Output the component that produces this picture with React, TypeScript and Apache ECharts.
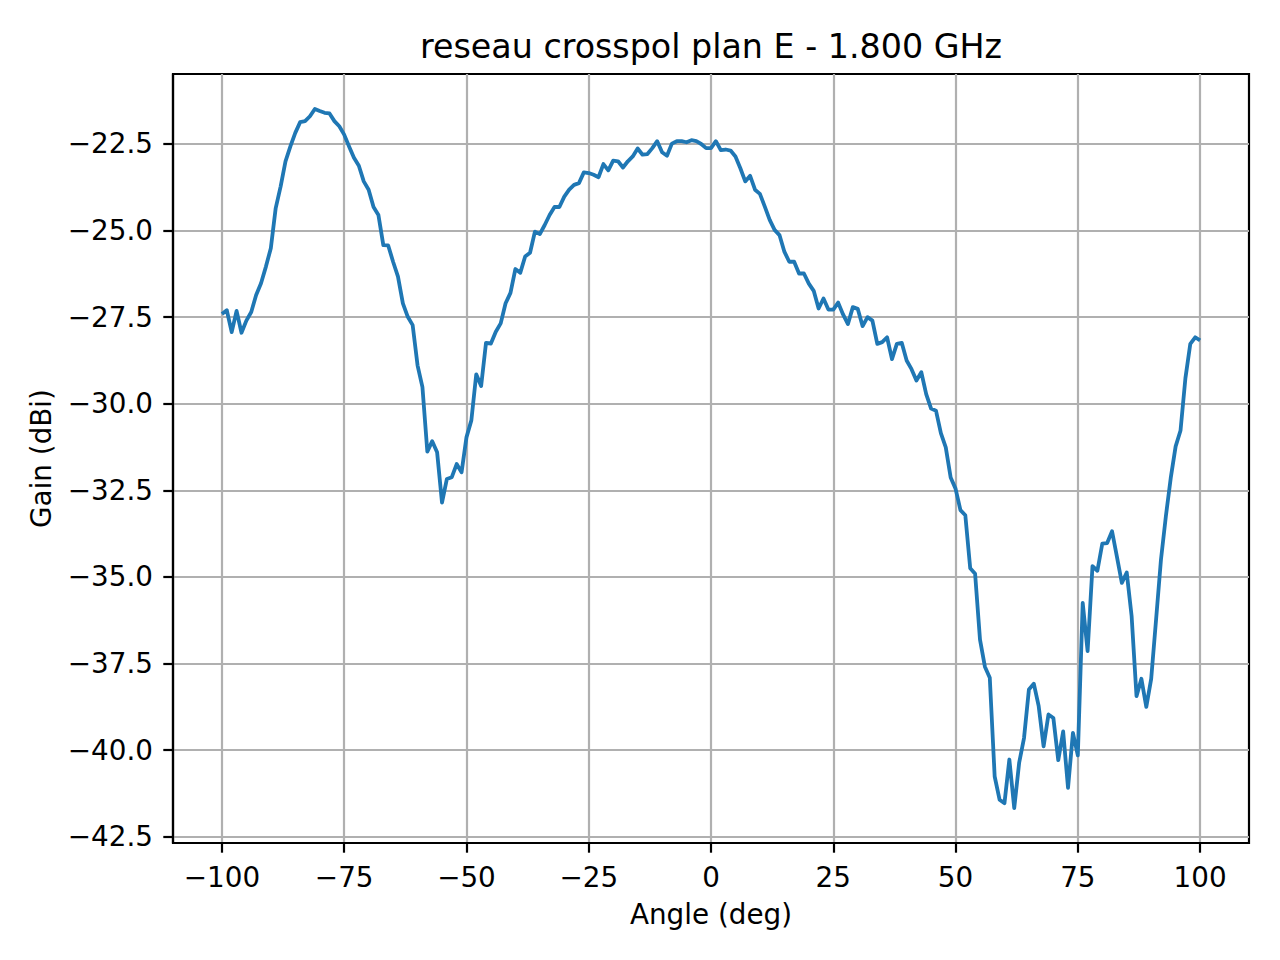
import React, { useEffect, useRef } from "react";
import * as echarts from "echarts";

const TITLE = "reseau crosspol plan E - 1.800 GHz";
const X_NAME = "Angle (deg)";
const Y_NAME = "Gain (dBi)";

const START_ANGLE = -100;
const ANGLE_STEP = 1;

const GAIN_DBI: number[] = [
  -27.41, -27.3, -27.93, -27.32, -27.95, -27.6, -27.35, -26.86, -26.52, -26.04,
  -25.51, -24.35, -23.73, -23.0, -22.57, -22.18, -21.87, -21.84, -21.7, -21.49,
  -21.55, -21.6, -21.62, -21.84, -21.99, -22.23, -22.57, -22.9, -23.13, -23.58,
  -23.82, -24.32, -24.55, -25.42, -25.43, -25.9, -26.33, -27.1, -27.49, -27.73,
  -28.89, -29.52, -31.38, -31.08, -31.4, -32.85, -32.17, -32.12, -31.74, -31.98,
  -30.97, -30.48, -29.15, -29.49, -28.24, -28.26, -27.92, -27.68, -27.1, -26.8,
  -26.11, -26.22, -25.75, -25.64, -25.03, -25.1, -24.84, -24.55, -24.32, -24.32,
  -24.02, -23.82, -23.68, -23.63, -23.32, -23.34, -23.39, -23.46, -23.08, -23.26,
  -22.98, -23.0, -23.18, -23.0, -22.86, -22.63, -22.81, -22.79, -22.62, -22.42,
  -22.74, -22.84, -22.49, -22.42, -22.42, -22.45, -22.39, -22.42, -22.5, -22.62,
  -22.62, -22.42, -22.68, -22.66, -22.69, -22.86, -23.2, -23.58, -23.42, -23.82,
  -23.94, -24.31, -24.69, -24.98, -25.13, -25.61, -25.9, -25.9, -26.24, -26.24,
  -26.53, -26.74, -27.25, -26.96, -27.28, -27.28, -27.08, -27.42, -27.7, -27.21,
  -27.26, -27.76, -27.5, -27.6, -28.27, -28.22, -28.08, -28.71, -28.27, -28.24,
  -28.75, -29.0, -29.33, -29.09, -29.72, -30.14, -30.2, -30.85, -31.26, -32.13,
  -32.45, -33.07, -33.22, -34.75, -34.91, -36.81, -37.59, -37.91, -40.76, -41.43,
  -41.53, -40.27, -41.67, -40.37, -39.65, -38.25, -38.08, -38.73, -39.89, -38.97,
  -39.07, -40.29, -39.46, -41.09, -39.5, -40.15, -35.75, -37.14, -34.69, -34.82,
  -34.04, -34.02, -33.68, -34.42, -35.17, -34.87, -36.13, -38.44, -37.94, -38.75,
  -37.94, -36.23, -34.5, -33.25, -32.14, -31.23, -30.77, -29.26, -28.27, -28.08,
  -28.17,
];

const X_TICKS = [-100, -75, -50, -25, 0, 25, 50, 75, 100];
const Y_TICKS = [-42.5, -40, -37.5, -35, -32.5, -30, -27.5, -25, -22.5];

const X_MIN = -110;
const X_MAX = 110;
const Y_MIN = -42.68;
const Y_MAX = -20.48;

const FONT = "DejaVu Sans";
const minus = (s: string) => s.replace("-", "\u2212");

export default function App() {
  const ref = useRef<HTMLDivElement>(null);
  useEffect(() => {
    if (!ref.current) return;
    const chart = echarts.init(ref.current, undefined, { renderer: "svg" });
    const points = GAIN_DBI.map((g, i) => [START_ANGLE + i * ANGLE_STEP, g]);
    chart.setOption({
      animation: false,
      backgroundColor: "#ffffff",
      title: {
        text: TITLE,
        left: 711,
        top: 26,
        textAlign: "center",
        padding: 0,
        textStyle: {
          fontFamily: FONT,
          fontSize: 33.3,
          fontWeight: "normal",
          color: "#000",
          lineHeight: 40,
        },
      },
      grid: {
        left: 173,
        top: 74,
        width: 1076,
        height: 769,
        show: true,
        borderColor: "#000",
        borderWidth: 2.2,
        backgroundColor: "transparent",
      },
      xAxis: {
        type: "value",
        min: X_MIN,
        max: X_MAX,
        name: X_NAME,
        nameLocation: "middle",
        nameGap: 57,
        nameTextStyle: { fontFamily: FONT, fontSize: 27.8, color: "#000" },
        axisLine: { show: true, onZero: false, lineStyle: { color: "#000", width: 2.2 } },
        axisTick: {
          show: true,
          length: 9.7,
          customValues: X_TICKS,
          lineStyle: { color: "#000", width: 2.2 },
        },
        axisLabel: {
          customValues: X_TICKS,
          margin: 20,
          fontFamily: FONT,
          fontSize: 27.8,
          color: "#000",
          formatter: (v: number) => minus(String(v)),
        },
        splitLine: { show: true, lineStyle: { color: "#b0b0b0", width: 2.2 } },
      },
      yAxis: {
        type: "value",
        min: Y_MIN,
        max: Y_MAX,
        name: Y_NAME,
        nameLocation: "middle",
        nameGap: 118,
        nameRotate: 90,
        nameTextStyle: { fontFamily: FONT, fontSize: 27.8, color: "#000" },
        axisLine: { show: true, onZero: false, lineStyle: { color: "#000", width: 2.2 } },
        axisTick: {
          show: true,
          length: 9.7,
          customValues: Y_TICKS,
          lineStyle: { color: "#000", width: 2.2 },
        },
        axisLabel: {
          customValues: Y_TICKS,
          margin: 20,
          fontFamily: FONT,
          fontSize: 27.8,
          color: "#000",
          formatter: (v: number) => minus(v.toFixed(1)),
        },
        splitLine: { show: true, lineStyle: { color: "#b0b0b0", width: 2.2 } },
      },
      series: [
        {
          type: "line",
          data: points,
          showSymbol: false,
          symbol: "none",
          lineStyle: { color: "#1f77b4", width: 3.8, join: "round" },
          z: 3,
        },
      ],
    });
    return () => chart.dispose();
  }, []);
  return (
    <div
      ref={ref}
      style={{ position: "fixed", left: 0, top: 0, width: 1280, height: 960, background: "#fff" }}
    />
  );
}
